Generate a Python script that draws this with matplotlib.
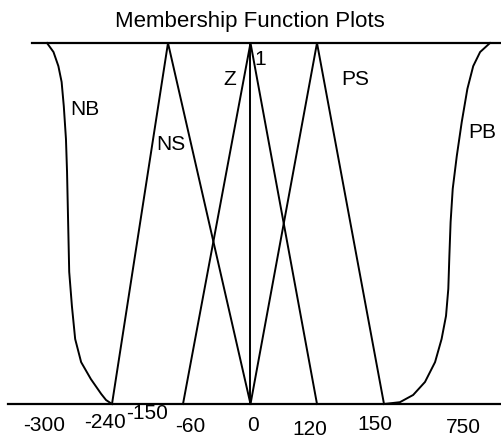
import numpy as np
import matplotlib
matplotlib.use("Agg")
import matplotlib.pyplot as plt

plt.rcParams['font.family'] = ['Liberation Sans', 'DejaVu Sans']

# ---- data -------------------------------------------------------------
tick_values = [-300, -240, -150, -60, 0, 120, 150, 750]
tick_labels = ['-300', '-240', '-150', '-60', '0', '120', '150', '750']

# triangular sets: (left foot, peak, right foot)
ns_tri = [-240, -150, 0]
z_tri = [-60, 0, 120]
ps_tri = [0, 120, 150]
tri_membership = [0, 1, 0]

# NB: S-shaped edge from -300 (membership 1) down to -240 (membership 0)
nb_mu = [1, 0.975, 0.936, 0.892, 0.825, 0.734, 0.643, 0.504, 0.366, 0.271,
         0.180, 0.116, 0.069, 0.028, 0.011, 0]
nb_x = [-300, -294, -289.5, -286.5, -284.5, -282.5, -281.5, -280.5, -279.5,
        -277, -274, -268.5, -259.5, -250, -245.5, -240]

# PB: S-shaped edge from 150 (membership 0) up to 750 (membership 1)
pb_mu = [0, 0.005, 0.025, 0.061, 0.116, 0.180, 0.244, 0.319, 0.410, 0.504,
         0.596, 0.687, 0.781, 0.873, 0.936, 0.975, 1]
pb_x = [150, 240, 315, 382, 439, 476, 501, 514, 520, 527, 539, 562, 590,
        622, 655, 694, 750]

set_names = ['NB', 'NS', 'Z', 'PS', 'PB']

# ---- layout -----------------------------------------------------------
W, H = 501, 439
# piecewise-linear placement of the universe of discourse along the page
knot_vals = np.array([-343.4, -300, -240, -150, -60, 0, 120, 150, 750, 812.3])
knot_px = np.array([0, 47, 112, 168, 183, 250.5, 317, 384, 490, 501])


def forward(v):
    return np.interp(v, knot_vals, knot_px)


def inverse(p):
    return np.interp(p, knot_px, knot_vals)


fig = plt.figure(figsize=(W / 100, H / 100), dpi=100)
ax = fig.add_axes([0, 0, 1, 1])
ax.set_xscale('function', functions=(forward, inverse))
ax.set_xlim(knot_vals[0], knot_vals[-1])
y_top, y_bot = 44, 405           # pixel rows of membership 1 and 0
span = y_bot - y_top
ax.set_ylim(-(H - y_bot) / span, y_bot / span)
ax.axis('off')

lw = 1.4
ax.axhline(1, xmin=32 / W, xmax=1, color='black', lw=1.6)
ax.axhline(0, xmin=8 / W, xmax=1, color='black', lw=1.6)

ax.plot(nb_x, nb_mu, color='black', lw=lw, solid_joinstyle='round')
ax.plot(pb_x, pb_mu, color='black', lw=lw, solid_joinstyle='round')
for tri in (ns_tri, z_tri, ps_tri):
    ax.plot(tri, tri_membership, color='black', lw=lw)
ax.vlines(0, 0, 1, color='black', lw=lw)


def px_text(x, y, s, size=15, **kw):
    fig.text(x / W, 1 - y / H, s, ha='center', va='baseline',
             fontsize=size, color='black', **kw)


px_text(250, 27, 'Membership Function Plots', size=16)

# set names
name_pos = [(85, 115), (171, 150), (230, 85), (355, 85), (482.5, 138)]
for name, (x, y) in zip(set_names, name_pos):
    px_text(x, y, name)
px_text(260.5, 65, '1')

# universe labels
label_pos = [(44, 431.5), (105, 428), (147.5, 419), (190, 432),
             (252.5, 431.5), (310, 435), (375, 430), (463.5, 433)]
for lab, (x, y) in zip(tick_labels, label_pos):
    px_text(x, y, lab)

fig.savefig('out.png', dpi=100, facecolor='white')
